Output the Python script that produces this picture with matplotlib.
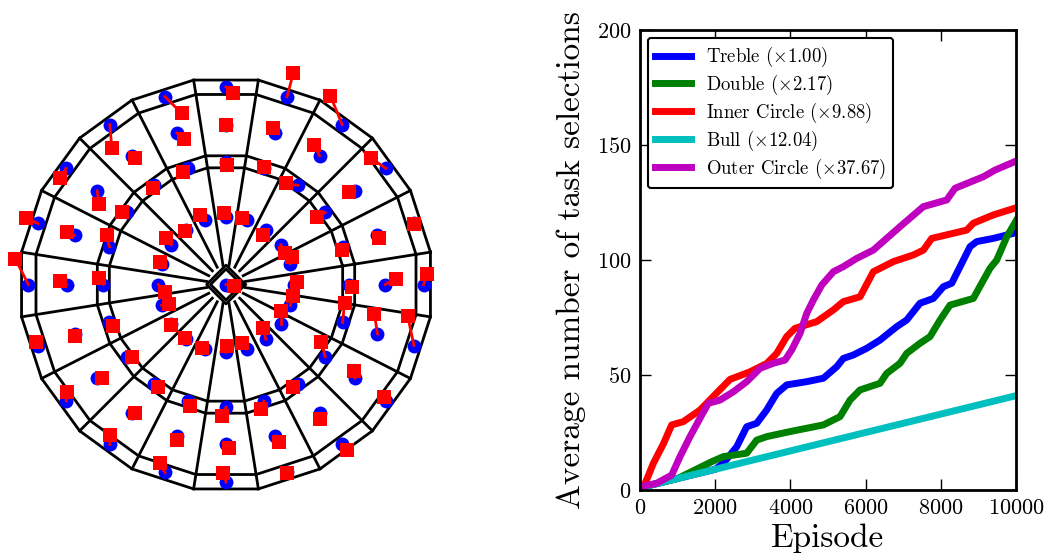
import numpy as np
import matplotlib
matplotlib.use("Agg")
import matplotlib.pyplot as plt

plt.rcParams["font.family"] = ["cmr10", "DejaVu Serif"]
plt.rcParams["mathtext.fontset"] = "cm"
plt.rcParams["axes.unicode_minus"] = False
plt.rcParams["axes.formatter.use_mathtext"] = True

# ---- dartboard layout (mm) ----
sector_angles = [90, 72, 54, 36, 18, 0, -18, -36, -54, -72,
                 -90, -108, -126, -144, -162, 180, 162, 144, 126, 108]
bull_radii = [12.7, 15.9]
ring_radii = [97.0, 107.0, 158.0, 170.0]
target_radii = {"double": 162.3, "outer": 130.8, "treble": 100.7, "inner": 55.6}

# red square offsets from each target (mm), one per sector
double_dx = [6.0, 5.2, -9.6, -12.0, -0.3, 2.5, -5.2, -1.9, 3.6, -0.3,
             -2.2, -4.1, 0.3, 0.5, -1.4, -10.7, -9.6, -4.9, 1.6, 13.7]
double_dy = [-5.3, 19.6, 23.5, 8.2, -0.3, 8.6, 24.6, 3.0, -4.9, -0.1,
             7.8, 7.5, 7.7, 7.1, 2.7, 20.9, 4.1, -8.2, -19.4, -13.8]
outer_dx = [0.3, -1.6, -4.7, -4.9, 1.1, 8.5, -2.5, -1.1, 0.0, 2.7,
            2.2, 0.0, 2.2, 3.8, 0.0, -5.2, -6.3, 1.6, 2.2, 6.0]
outer_dy = [0.1, 3.8, 9.0, -0.8, -2.5, 4.8, 16.2, 5.7, -4.7, -5.2,
            -3.4, -3.0, 0.3, -0.3, -2.2, 3.1, 3.0, -10.4, -2.2, -4.9]
treble_dx = [0.8, -0.3, -10.1, -6.8, -0.8, 3.0, 1.6, -3.3, -4.1, -2.2,
             -3.6, 1.6, 3.6, 4.1, 3.3, -3.8, -2.2, -3.6, -0.5, -3.8]
treble_dy = [-2.6, 1.0, 1.6, -4.1, -2.7, -1.8, 15.9, 11.8, -3.0, -6.4,
             -7.5, -4.2, -3.0, -0.3, -3.3, 5.3, 9.6, 0.5, -1.9, -3.7]
inner_dx = [-1.4, -3.8, -1.9, 3.6, 1.1, 2.5, 2.5, 0.0, -2.2, -3.8,
            0.8, -2.7, -1.1, -0.3, 5.7, 5.7, -1.4, -4.7, -1.1, -3.8]
inner_dy = [2.9, 1.8, -4.4, -7.1, 5.2, 2.3, 7.4, 11.0, 9.3, 4.8,
            5.1, 0.7, 1.1, -0.3, 0.8, -6.2, 1.1, 5.2, -0.8, 4.0]
bull_offset = (6.8, -1.0)

# ---- task selection curves ----
treble_x = [0, 1000, 2000, 2216, 2572, 2838, 3104, 3370, 3636, 3902, 4434, 4877,
            5232, 5408, 5674, 6029, 6384, 6827, 7093, 7448, 7803, 8069, 8291,
            8512, 8778, 8955, 9398, 9930, 10000]
treble_y = [1, 5, 9, 11.6, 18.8, 27.5, 29, 34.8, 42, 45.7, 47.1, 48.6,
            53.6, 57.2, 58.7, 61.6, 65.2, 71, 73.9, 81.2, 83.3, 88.4, 89.9,
            97.1, 105.8, 108, 109.4, 111.6, 113]
double_x = [0, 1000, 1906, 2216, 2838, 3104, 3370, 3990, 4877, 5320, 5586, 5852,
            6384, 6561, 6916, 7093, 7448, 7714, 7980, 8246, 8866, 9088, 9310,
            9488, 9754, 10000]
double_y = [1, 5, 12.3, 14.5, 16, 21.7, 23.2, 25.4, 28.3, 31.9, 39.1, 43.5,
            46.4, 50.7, 55.1, 59.4, 63.8, 66.7, 73.9, 80.4, 83.3, 89.9, 96.4,
            100, 110.1, 117]
inner_x = [0, 100, 355, 620, 843, 1150, 1600, 2070, 2395, 2926, 3370, 3636,
           3902, 4123, 4700, 5143, 5408, 5852, 6206, 6738, 7270, 7536, 7759,
           8690, 8866, 9398, 10000]
inner_y = [0, 1.4, 11.6, 20, 28.3, 29.7, 34.8, 42.7, 48.1, 51.4, 55, 59.4,
           66.7, 70.3, 73.2, 78.3, 81.9, 84, 94.9, 99.3, 102.2, 104.3, 109.4,
           113, 116, 119.6, 122.7]
bull_x = [0, 2000, 4000, 6000, 8000, 10000]
bull_y = [1, 9, 17, 25, 33, 41]
outer_x = [0, 443, 843, 1064, 1330, 1596, 1817, 2128, 2483, 2838, 3192, 3547,
           3857, 4035, 4256, 4434, 4611, 4833, 5143, 5408, 5763, 6206, 6561,
           6916, 7536, 8158, 8380, 9132, 9443, 10000]
outer_y = [1.4, 2.9, 6.5, 14.5, 23.2, 31.2, 37.7, 39.1, 42.7, 47.1, 52.9, 55.1,
           56.5, 60.9, 68.1, 76.8, 82.6, 89.1, 94.9, 97.1, 100.7, 104.3, 109.4,
           114.5, 123.2, 126.1, 131.2, 136.2, 139.1, 143]

labels = [r"Treble ($\times$1.00)", r"Double ($\times$2.17)",
          r"Inner Circle ($\times$9.88)", r"Bull ($\times$12.04)",
          r"Outer Circle ($\times$37.67)"]
colors = ["b", "g", "r", "c", "m"]

fig = plt.figure(figsize=(10.51, 5.6), dpi=100)

# ---------------- left: dartboard ----------------
ax = fig.add_axes([0, 0, 460 / 1051, 1])
scale = 1.2176  # px per mm
ax.set_xlim(-226 / scale, (460 - 226) / scale)
ax.set_ylim(-275.5 / scale, 284.5 / scale)
ax.axis("off")

edge = np.deg2rad(np.arange(9, 369 + 1, 18))
for r in ring_radii:
    ax.plot(r * np.cos(edge), r * np.sin(edge), "k-", lw=2, zorder=1)
diamond = np.deg2rad(np.arange(0, 361, 90))
for r in bull_radii:
    ax.plot(r * np.cos(diamond), r * np.sin(diamond), "k-", lw=2, zorder=1)
for a in edge[:-1]:
    ax.plot([bull_radii[1] * np.cos(a), ring_radii[-1] * np.cos(a)],
            [bull_radii[1] * np.sin(a), ring_radii[-1] * np.sin(a)],
            "k-", lw=2, zorder=1)

offsets = {"double": (double_dx, double_dy), "outer": (outer_dx, outer_dy),
           "treble": (treble_dx, treble_dy), "inner": (inner_dx, inner_dy)}
th = np.deg2rad(sector_angles)
tx, ty, sx, sy = [0.0], [0.0], [bull_offset[0]], [bull_offset[1]]
for key, r in target_radii.items():
    dx, dy = offsets[key]
    px = r * np.cos(th)
    py = r * np.sin(th)
    tx.extend(px)
    ty.extend(py)
    sx.extend(px + np.array(dx))
    sy.extend(py + np.array(dy))

ax.plot(tx, ty, "o", color="b", ms=10, mew=0, zorder=2)
for x0, y0, x1, y1 in zip(tx, ty, sx, sy):
    ax.plot([x0, x1], [y0, y1], "r-", lw=2, zorder=3)
ax.plot(sx, sy, "s", color="r", ms=10, mew=0, zorder=4)

# ---------------- right: task selections ----------------
ax2 = fig.add_axes([640 / 1051, 70 / 560, 376 / 1051, 460 / 560])
series = [(treble_x, treble_y), (double_x, double_y), (inner_x, inner_y),
          (bull_x, bull_y), (outer_x, outer_y)]
for (xs, ys), c, lab in zip(series, colors, labels):
    ax2.plot(xs, ys, color=c, lw=5, label=lab)
ax2.set_xlim(0, 10000)
ax2.set_ylim(0, 200)
ax2.set_xticks([0, 2000, 4000, 6000, 8000, 10000])
ax2.set_yticks([0, 50, 100, 150, 200])
ax2.tick_params(direction="in", top=True, right=True, length=8, width=1,
                labelsize=16, pad=6)
for s in ax2.spines.values():
    s.set_linewidth(2)
ax2.set_xlabel("Episode", fontsize=24, labelpad=4)
ax2.set_ylabel("Average number of task selections", fontsize=24, labelpad=8)
leg = ax2.legend(loc="upper left", fontsize=13.5, handlelength=1.9,
                 labelspacing=0.2, borderaxespad=0.4, fancybox=True)
leg.get_frame().set_edgecolor("k")
leg.get_frame().set_linewidth(1.5)
leg.get_frame().set_alpha(1)

fig.savefig("out.png", dpi=100)
